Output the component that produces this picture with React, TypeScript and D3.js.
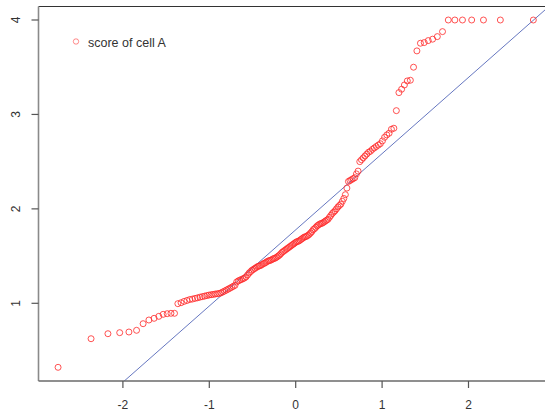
import React, { useEffect, useRef } from "react";
import * as d3 from "d3";

// Sorted scores of cell A (sample values, ascending)
const scores: number[] = [
  0.322, 0.625, 0.678, 0.689, 0.696, 0.714, 0.784, 0.823, 0.841, 0.862,
  0.883, 0.890, 0.894, 0.894, 0.996, 1.006, 1.02, 1.03, 1.04, 1.045,
  1.052, 1.058, 1.065, 1.071, 1.076, 1.082, 1.087, 1.091, 1.094, 1.098,
  1.101, 1.104, 1.11, 1.12, 1.13, 1.14, 1.15, 1.16, 1.17, 1.18,
  1.19, 1.225, 1.237, 1.245, 1.252, 1.26, 1.268, 1.28, 1.30, 1.32,
  1.335, 1.35, 1.36, 1.37, 1.38, 1.39, 1.395, 1.40, 1.41, 1.42,
  1.425, 1.435, 1.445, 1.45, 1.455, 1.46, 1.47, 1.475, 1.48, 1.49,
  1.50, 1.51, 1.525, 1.54, 1.55, 1.56, 1.57, 1.58, 1.59, 1.60,
  1.61, 1.62, 1.63, 1.64, 1.65, 1.655, 1.66, 1.67, 1.68, 1.69,
  1.70, 1.705, 1.71, 1.72, 1.73, 1.745, 1.76, 1.78, 1.79, 1.805,
  1.82, 1.83, 1.84, 1.845, 1.85, 1.86, 1.87, 1.88, 1.89, 1.91,
  1.93, 1.95, 1.965, 1.98, 2.00, 2.02, 2.035, 2.05, 2.08, 2.11,
  2.15, 2.22, 2.29, 2.30, 2.31, 2.32, 2.33, 2.37, 2.40, 2.50,
  2.52, 2.54, 2.56, 2.58, 2.60, 2.61, 2.63, 2.645, 2.66, 2.675,
  2.69, 2.72, 2.758, 2.783, 2.801, 2.843, 2.854, 3.040, 3.231, 3.267,
  3.312, 3.355, 3.362, 3.50, 3.673, 3.754, 3.761, 3.782, 3.797, 3.824,
  3.877, 4.0, 4.0, 4.0, 4.0, 4.0, 4.0, 4.0,
];

const xTicks: number[] = [-2, -1, 0, 1, 2];
const yTicks: number[] = [1, 2, 3, 4];
const legendLabel = "score of cell A";

// Inverse of the standard normal CDF (Acklam's rational approximation)
function qnorm(p: number): number {
  const a = [-39.69683028665376, 220.9460984245205, -275.9285104469687, 138.357751867269, -30.66479806614716, 2.506628274631];
  const b = [-54.47609879822406, 161.5858368580409, -155.6989798598866, 66.80131188771972, -13.28068155288572];
  const c = [-0.007784894002430293, -0.3223964580411365, -2.400758277161838, -2.549732539343734, 4.374664141464968, 2.938163982698783];
  const d = [0.007784695709041462, 0.3224671290700398, 2.445134137142996, 3.754408661907416];
  const pl = 0.02425;
  if (p < pl) {
    const q = Math.sqrt(-2 * Math.log(p));
    return (((((c[0] * q + c[1]) * q + c[2]) * q + c[3]) * q + c[4]) * q + c[5]) /
      ((((d[0] * q + d[1]) * q + d[2]) * q + d[3]) * q + 1);
  }
  if (p > 1 - pl) {
    const q = Math.sqrt(-2 * Math.log(1 - p));
    return -(((((c[0] * q + c[1]) * q + c[2]) * q + c[3]) * q + c[4]) * q + c[5]) /
      ((((d[0] * q + d[1]) * q + d[2]) * q + d[3]) * q + 1);
  }
  const q = p - 0.5;
  const r = q * q;
  return (((((a[0] * r + a[1]) * r + a[2]) * r + a[3]) * r + a[4]) * r + a[5]) * q /
    (((((b[0] * r + b[1]) * r + b[2]) * r + b[3]) * r + b[4]) * r + 1);
}

const W = 545;
const H = 419;
const left = 38.5;
const right = 545;
const top = 6.5;
const bottom = 381;

export default function App() {
  const ref = useRef<SVGSVGElement>(null);

  useEffect(() => {
    const svg = d3.select(ref.current);
    svg.selectAll("*").remove();

    const n = scores.length;
    const sorted = scores.slice().sort((a, b) => a - b);
    const pts = sorted.map((v, i) => ({ z: qnorm((i + 0.5) / n), v }));

    const x = d3.scaleLinear().domain([-2, 2]).range([122.9, 468.5]);
    const y = d3.scaleLinear().domain([1, 4]).range([303.3, 20]);

    // reference line through the first and third quartiles
    const q1 = d3.quantile(sorted, 0.25) as number;
    const q3 = d3.quantile(sorted, 0.75) as number;
    const z1 = qnorm(0.25);
    const z3 = qnorm(0.75);
    const slope = (q3 - q1) / (z3 - z1);
    const intercept = q1 - slope * z1;

    const font = "'Liberation Sans', Arial, sans-serif";

    svg.append("defs").append("clipPath").attr("id", "plotClip")
      .append("rect").attr("x", left).attr("y", top)
      .attr("width", right - left).attr("height", bottom - top);

    const plot = svg.append("g").attr("clip-path", "url(#plotClip)");

    const zs = [-4, 4];
    plot.append("line")
      .attr("x1", x(zs[0])).attr("y1", y(intercept + slope * zs[0]))
      .attr("x2", x(zs[1])).attr("y2", y(intercept + slope * zs[1]))
      .attr("stroke", "#6677c0").attr("stroke-width", 1);

    plot.selectAll("circle.pt").data(pts).enter().append("circle")
      .attr("class", "pt")
      .attr("cx", (d) => x(d.z)).attr("cy", (d) => y(d.v)).attr("r", 3)
      .attr("fill", "none").attr("stroke", "#ff2828").attr("stroke-opacity", 0.8)
      .attr("stroke-width", 1);

    // frame
    svg.append("line").attr("x1", left).attr("x2", right).attr("y1", top).attr("y2", top)
      .attr("stroke", "#333").attr("stroke-width", 1.2);
    svg.append("line").attr("x1", left).attr("x2", left).attr("y1", top).attr("y2", bottom)
      .attr("stroke", "#8a8a8a").attr("stroke-width", 1.6);
    svg.append("line").attr("x1", left).attr("x2", right).attr("y1", bottom).attr("y2", bottom)
      .attr("stroke", "#6a6a6a").attr("stroke-width", 1.4);

    // x axis ticks
    const gx = svg.append("g");
    xTicks.forEach((t) => {
      gx.append("line").attr("x1", x(t)).attr("x2", x(t)).attr("y1", bottom).attr("y2", bottom + 7)
        .attr("stroke", "#555").attr("stroke-width", 1.2);
      gx.append("text").attr("x", x(t)).attr("y", 409).attr("text-anchor", "middle")
        .attr("font-family", font).attr("font-size", 12).attr("fill", "#333").text(String(t));
    });

    // y axis ticks (labels rotated as in base graphics)
    const gy = svg.append("g");
    yTicks.forEach((t) => {
      gy.append("line").attr("x1", left - 7).attr("x2", left).attr("y1", y(t)).attr("y2", y(t))
        .attr("stroke", "#555").attr("stroke-width", 1.2);
      gy.append("text")
        .attr("transform", `translate(20,${y(t)}) rotate(-90)`)
        .attr("text-anchor", "middle")
        .attr("font-family", font).attr("font-size", 12).attr("fill", "#333").text(String(t));
    });

    // legend
    svg.append("circle").attr("cx", 76).attr("cy", 41.5).attr("r", 2.7)
      .attr("fill", "none").attr("stroke", "#ff4040").attr("stroke-opacity", 0.6).attr("stroke-width", 1);
    svg.append("text").attr("x", 88).attr("y", 47).attr("font-family", font).attr("font-size", 12.5)
      .attr("fill", "#333").text(legendLabel);
  }, []);

  return (
    <svg ref={ref} width={W} height={H}
      style={{ position: "fixed", left: 0, top: 0, background: "#fff" }} />
  );
}
